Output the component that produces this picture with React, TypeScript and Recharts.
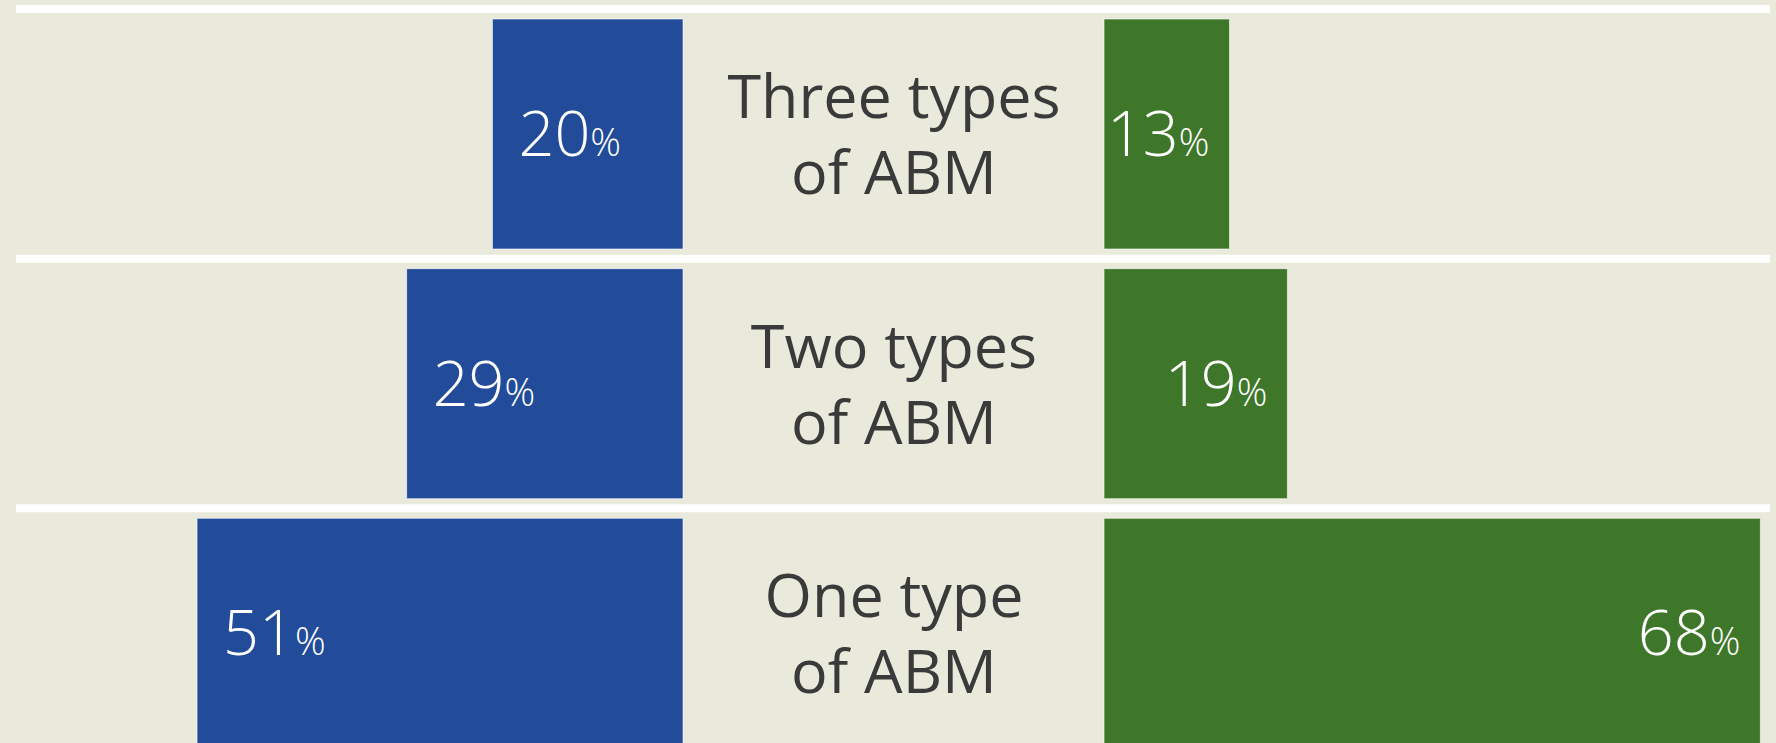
import { BarChart, Bar, XAxis, YAxis, CartesianGrid, LabelList } from "recharts"

const categories = ["Three types of ABM", "Two types of ABM", "One type of ABM"]
const blueShares = [20, 29, 51]
const greenShares = [13, 19, 68]

const data = categories.map((name, i) => ({
  name,
  blue: blueShares[i],
  green: greenShares[i],
}))

const FONT = "'Open Sans', 'Noto Sans', sans-serif"
// half the empty gap between the blue and green columns
const HALF_GAP = 211

const categoryLabel = (props: any) => {
  const { x, y, width, height, value } = props
  const right = Math.max(x, x + width)
  const cx = right + HALF_GAP
  const cy = y + height / 2
  const text: string = String(value)
  const cut = text.indexOf(" of ")
  return (
    <text x={cx} y={cy} textAnchor="middle" fill="#3a3a3a" fontSize={61} fontFamily={FONT}>
      <tspan x={cx} dy={-16}>{text.slice(0, cut)}</tspan>
      <tspan x={cx} dy={76}>{text.slice(cut + 1)}</tspan>
    </text>
  )
}

const valueLabel = (side: "left" | "right") => (props: any) => {
  const { x, y, width, height, value } = props
  const left = Math.min(x, x + width)
  const right = Math.max(x, x + width)
  const cy = y + height / 2
  return (
    <text
      x={side === "left" ? left + 26 : right - 20}
      y={cy + 22}
      textAnchor={side === "left" ? "start" : "end"}
      fill="#ffffff"
      fontFamily={FONT}
      fontWeight={300}
    >
      <tspan fontSize={63}>{value}</tspan>
      <tspan fontSize={38}>%</tspan>
    </text>
  )
}

export default function App() {
  return (
    <div
      style={{
        position: "absolute",
        top: 0,
        left: 0,
        width: 1776,
        height: 743,
        overflow: "hidden",
        background: "#e9eadb",
      }}
    >
      <BarChart
        width={1776}
        height={758}
        data={data}
        layout="vertical"
        barCategoryGap={10}
        margin={{ top: 9, right: 6, bottom: 0, left: 16 }}
      >
        <CartesianGrid
          xAxisId="blue"
          yAxisId="left"
          vertical={false}
          stroke="#ffffff"
          strokeWidth={8}
          horizontalCoordinatesGenerator={({ offset }: any) =>
            categories
              .concat([""])
              .map((_, i) => offset.top + (i * offset.height) / categories.length)
          }
        />
        <XAxis
          xAxisId="blue"
          type="number"
          domain={[0, 70]}
          reversed
          hide
          padding={{ left: 0, right: 1087 }}
        />
        <XAxis
          xAxisId="green"
          type="number"
          domain={[0, 69]}
          hide
          padding={{ left: 1088, right: 0 }}
        />
        <YAxis yAxisId="left" dataKey="name" type="category" hide />
        <YAxis yAxisId="right" dataKey="name" type="category" hide />
        <Bar
          dataKey="blue"
          xAxisId="blue"
          yAxisId="left"
          fill="#224c9a"
          stroke="#ffffff"
          strokeOpacity={0.6}
          strokeWidth={1}
          isAnimationActive={false}
        >
          <LabelList dataKey="blue" content={valueLabel("left")} />
          <LabelList dataKey="name" content={categoryLabel} />
        </Bar>
        <Bar
          dataKey="green"
          xAxisId="green"
          yAxisId="right"
          fill="#3e772a"
          stroke="#ffffff"
          strokeOpacity={0.6}
          strokeWidth={1}
          isAnimationActive={false}
        >
          <LabelList dataKey="green" content={valueLabel("right")} />
        </Bar>
      </BarChart>
    </div>
  )
}
